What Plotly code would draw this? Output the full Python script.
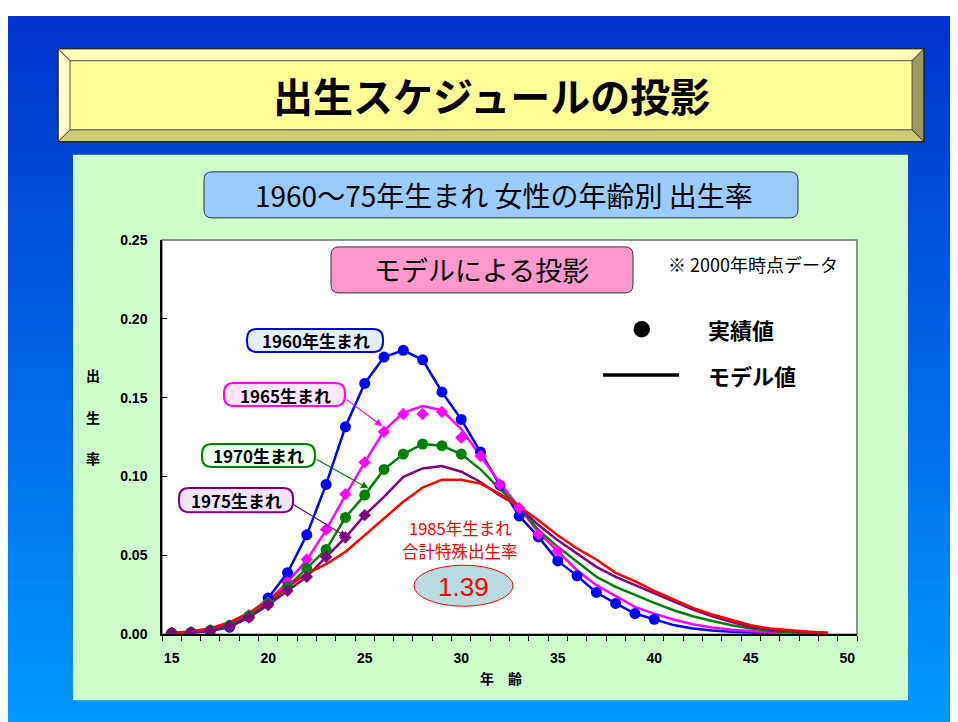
import plotly.graph_objects as go

W, H = 958, 722

# ---------------- data ----------------
ages = list(range(15, 50))
x_ticks = [15, 20, 25, 30, 35, 40, 45, 50]
y_ticks = [0.00, 0.05, 0.10, 0.15, 0.20, 0.25]

# 1960 cohort (actual to age 40)
blue_actual = [0.0005, 0.001, 0.002, 0.0045, 0.011, 0.023, 0.039, 0.063, 0.095, 0.1315,
               0.159, 0.1757, 0.180, 0.174, 0.1536, 0.1362, 0.1155, 0.0945, 0.075, 0.0617,
               0.0465, 0.037, 0.0265, 0.0195, 0.0131, 0.0095]
blue_model = blue_actual + [0.0058, 0.0037, 0.0023, 0.0015, 0.0009, 0.0006, 0.0004, 0.0002, 0.0001]

# 1965 cohort (actual to age 35)
magenta_actual = [0.0008, 0.0012, 0.0025, 0.0055, 0.012, 0.020, 0.033, 0.0474, 0.0664, 0.0888,
                  0.109, 0.1284, 0.1396, 0.1396, 0.141, 0.1246, 0.113, 0.095, 0.080, 0.0634, 0.0527]
magenta_model = [0.0008, 0.0013, 0.0027, 0.006, 0.0125, 0.021, 0.033, 0.047, 0.066, 0.088,
                 0.109, 0.129, 0.1405, 0.1447, 0.142, 0.130, 0.113, 0.096, 0.0805, 0.0645,
                 0.0527, 0.0406, 0.0311, 0.0241, 0.0173, 0.0131, 0.0093, 0.0063, 0.0042, 0.0028,
                 0.0018, 0.0012, 0.0008, 0.0005, 0.0003]

# 1970 cohort (actual to age 30)
green_actual = [0.0008, 0.0012, 0.0025, 0.0055, 0.0115, 0.0195, 0.030, 0.0417, 0.0537, 0.074,
                0.0882, 0.1045, 0.1142, 0.1206, 0.1195, 0.1142]
green_model = green_actual + [0.1045, 0.092, 0.0806, 0.066, 0.0554, 0.0459, 0.0364, 0.030, 0.0247,
                              0.0199, 0.0152, 0.0114, 0.0084, 0.0057, 0.0036, 0.0022, 0.0013, 0.0008, 0.0005]

# 1975 cohort (actual to age 25)
purple_actual = [0.0008, 0.0012, 0.002, 0.005, 0.0105, 0.0185, 0.0275, 0.0364, 0.049, 0.0613, 0.0755]
purple_model = purple_actual + [0.0871, 0.0998, 0.1051, 0.1066, 0.103, 0.0965, 0.088, 0.0808, 0.0692,
                                0.0596, 0.0512, 0.0427, 0.0364, 0.0311, 0.0258, 0.0205, 0.0157, 0.0114,
                                0.0078, 0.0048, 0.003, 0.002, 0.0012, 0.0008]

# 1985 cohort (model only)
red_model = [0.001, 0.0018, 0.0038, 0.0075, 0.0135, 0.0215, 0.030, 0.0385, 0.0444, 0.0522,
             0.0628, 0.0734, 0.084, 0.093, 0.098, 0.098, 0.0955, 0.089, 0.081, 0.0723,
             0.0628, 0.0544, 0.0474, 0.0389, 0.0336, 0.0275, 0.022, 0.0167, 0.0125, 0.0089,
             0.0057, 0.0036, 0.0025, 0.0015, 0.001]

# ---------------- helpers (page pixel -> paper) ----------------
OFF_X = 8
OFF_Y, SC_Y = 16.3, 0.977


def X(px):
    return (px - OFF_X) / W


def Y(py):
    v = 1 - ((py - OFF_Y) / SC_Y) / H
    return min(1.0, max(0.0, v))


def rrect(x0, y0, x1, y1, r):
    p = lambda x, y: f"{X(x):.5f},{Y(y):.5f}"
    return (f"M {p(x0 + r, y0)} L {p(x1 - r, y0)} Q {p(x1, y0)} {p(x1, y0 + r)} "
            f"L {p(x1, y1 - r)} Q {p(x1, y1)} {p(x1 - r, y1)} L {p(x0 + r, y1)} "
            f"Q {p(x0, y1)} {p(x0, y1 - r)} L {p(x0, y0 + r)} Q {p(x0, y0)} {p(x0 + r, y0)} Z")


def poly(pts):
    return "M " + " L ".join(f"{X(a):.5f},{Y(b):.5f}" for a, b in pts) + " Z"


JP = "Noto Sans CJK JP"
AR = "Liberation Sans"

fig = go.Figure()

# ---------------- traces ----------------
series = [
    ("1960", "#0000FF", blue_model, blue_actual, "circle", 11),
    ("1965", "#FF00FF", magenta_model, magenta_actual, "diamond", 9.5),
    ("1970", "#008000", green_model, green_actual, "circle", 11),
    ("1975", "#800080", purple_model, purple_actual, "diamond", 9.5),
]
for name, col, model, actual, sym, sz in series:
    fig.add_trace(go.Scatter(x=ages[:len(model)], y=model, mode="lines",
                             line=dict(color=col, width=2.5), showlegend=False, hoverinfo="skip"))
fig.add_trace(go.Scatter(x=ages[:len(red_model)], y=red_model, mode="lines",
                         line=dict(color="#FF0000", width=2.5), showlegend=False, hoverinfo="skip"))
for name, col, model, actual, sym, sz in series:
    fig.add_trace(go.Scatter(x=ages[:len(actual)], y=actual, mode="markers",
                             marker=dict(symbol=sym, size=sz, color=col, line=dict(width=0)),
                             showlegend=False, hoverinfo="skip"))

# ---------------- shapes ----------------
shapes = []
n = 80
c0 = (0, 51, 204)
c1 = (0, 153, 255)
for i in range(n):
    t = i / (n - 1)
    c = tuple(int(round(c0[k] + (c1[k] - c0[k]) * t)) for k in range(3))
    ya = 1 - i / n
    yb = 1 - (i + 1) / n - 0.002
    shapes.append(dict(type="rect", xref="paper", yref="paper", x0=0, x1=1, y0=max(0, yb), y1=ya,
                       fillcolor=f"rgb{c}", line=dict(width=0), layer="below"))

# yellow bevelled title box
ox0, oy0, ox1, oy1 = 58, 49, 924, 142
ix0, iy0, ix1, iy1 = 70, 61, 912, 130
shapes.append(dict(type="rect", xref="paper", yref="paper", x0=X(ix0), x1=X(ix1), y0=Y(iy1), y1=Y(iy0),
                   fillcolor="#FFFF99", line=dict(width=0), layer="below"))
bevels = [
    ([(ox0, oy0), (ox1, oy0), (ix1, iy0), (ix0, iy0)], "#FFFFB8"),
    ([(ox0, oy0), (ix0, iy0), (ix0, iy1), (ox0, oy1)], "#FFFFCC"),
    ([(ox0, oy1), (ix0, iy1), (ix1, iy1), (ox1, oy1)], "#CCCC77"),
    ([(ox1, oy0), (ox1, oy1), (ix1, iy1), (ix1, iy0)], "#999966"),
]
for pts, col in bevels:
    shapes.append(dict(type="path", xref="paper", yref="paper", path=poly(pts), fillcolor=col,
                       line=dict(color="#333333", width=0.8), layer="below"))
shapes.append(dict(type="rect", xref="paper", yref="paper", x0=X(ox0), x1=X(ox1), y0=Y(oy1), y1=Y(oy0),
                   line=dict(color="#222222", width=1.2), layer="below"))

# light green panel
shapes.append(dict(type="rect", xref="paper", yref="paper", x0=X(73), x1=X(908), y0=Y(700), y1=Y(155),
                   fillcolor="#CCFFCC", line=dict(width=0), layer="below"))
# plot area
shapes.append(dict(type="rect", xref="paper", yref="paper", x0=X(162), x1=X(857), y0=Y(634), y1=Y(240),
                   fillcolor="white", line=dict(color="#707070", width=1.5), layer="below"))

# subtitle boxes
shapes.append(dict(type="path", xref="paper", yref="paper", path=rrect(204, 172, 798, 218, 8),
                   fillcolor="#99CCFF", line=dict(color="#333333", width=1), layer="below"))
shapes.append(dict(type="path", xref="paper", yref="paper", path=rrect(331, 247, 633, 293, 8),
                   fillcolor="#FF99CC", line=dict(color="#333333", width=1), layer="above"))

# cohort label pills
pills = [
    (247, 329, 383, 352, "#0000FF", "#E4EEFF"),
    (224, 383, 345, 406, "#FF00FF", "#FFE6FF"),
    (202, 444, 315, 467, "#008000", "#EEFFEE"),
    (179, 488, 293, 512, "#800080", "#F0E4F6"),
]
for x0, y0, x1, y1, lc, fc in pills:
    shapes.append(dict(type="path", xref="paper", yref="paper", path=rrect(x0, y0, x1, y1, 10),
                       fillcolor=fc, line=dict(color=lc, width=2), layer="above"))

# ellipse for 1.39
shapes.append(dict(type="circle", xref="paper", yref="paper", x0=X(414), x1=X(513), y0=Y(606), y1=Y(565),
                   fillcolor="#B8DCE0", line=dict(color="#FF0000", width=1), layer="above"))

# legend symbols
shapes.append(dict(type="circle", xref="paper", yref="paper", x0=X(633.5), x1=X(650), y0=Y(337.5), y1=Y(321),
                   fillcolor="black", line=dict(width=0), layer="above"))
shapes.append(dict(type="line", xref="paper", yref="paper", x0=X(603), x1=X(679), y0=Y(375), y1=Y(375),
                   line=dict(color="black", width=3.5), layer="above"))

# ---------------- annotations ----------------
ann = []


def txt(x, y, s, size, color="black", family=JP, weight="normal", xanchor="center"):
    ann.append(dict(x=X(x), y=Y(y), xref="paper", yref="paper", text=s, showarrow=False,
                    xanchor=xanchor, yanchor="middle",
                    font=dict(family=family, size=size, color=color, weight=weight)))


txt(492, 95, "出生スケジュールの投影", 40, weight="bold")
txt(504, 195, "1960～75年生まれ 女性の年齢別 出生率", 28)
txt(481, 270, "モデルによる投影", 27)
txt(753, 264, "※ 2000年時点データ", 18)
txt(706, 329, "実績値", 22, weight="bold", xanchor="left")
txt(706, 375, "モデル値", 22, weight="bold", xanchor="left")

txt(316, 341, "1960年生まれ", 17, weight="bold")
txt(285, 395, "1965生まれ", 17, weight="bold")
txt(258.5, 455.5, "1970生まれ", 17, weight="bold")
txt(236, 500, "1975生まれ", 17, weight="bold")

txt(460, 528, "1985年生まれ", 16.5, color="#FF0000")
txt(460, 551, "合計特殊出生率", 16.5, color="#FF0000")
txt(463, 587, "1.39", 26, color="#FF0000", family=AR)

for ch, yy in zip(["出", "生", "率"], [375, 417, 458]):
    txt(93, yy, ch, 14, weight="bold")
txt(487, 678, "年", 14, weight="bold")
txt(515, 678, "齢", 14, weight="bold")

arrows = [
    (25.91, 0.132, 23.98, 0.1496, "#FF00FF"),
    (25.19, 0.0925, 22.42, 0.1115, "#008000"),
    (24.07, 0.0617, 21.22, 0.0829, "#800080"),
]
for hx, hy, tx, ty, col in arrows:
    ann.append(dict(x=hx, y=hy, xref="x", yref="y", ax=tx, ay=ty, axref="x", ayref="y",
                    text="", showarrow=True, arrowhead=2, arrowsize=1.2, arrowwidth=1.2,
                    arrowcolor=col, standoff=0, startstandoff=0))

fig.update_layout(
    width=W, height=H,
    margin=dict(l=0, r=0, t=0, b=0),
    paper_bgcolor="white", plot_bgcolor="rgba(0,0,0,0)",
    shapes=shapes, annotations=ann, showlegend=False,
    xaxis=dict(domain=[X(162), X(857)], range=[14.5, 50.5], tickmode="array", tickvals=x_ticks,
               ticktext=[str(v) for v in x_ticks], ticks="", showline=True, linecolor="black",
               linewidth=1.5, showgrid=False, zeroline=False, ticklabelstandoff=10,
               tickfont=dict(family=AR, size=14, color="black", weight="bold"),
               minor=dict(tick0=14.5, dtick=1, ticks="outside", ticklen=5, tickcolor="black",
                          tickwidth=1, showgrid=False)),
    yaxis=dict(domain=[Y(634), Y(240)], range=[0, 0.25], tickmode="array", tickvals=y_ticks,
               ticktext=[f"{v:.2f}" for v in y_ticks], ticks="inside", ticklen=5, tickcolor="black",
               showline=True, linecolor="black", linewidth=1.5, showgrid=False, zeroline=False,
               ticklabelstandoff=10,
               tickfont=dict(family=AR, size=14, color="black", weight="bold")),
)

fig.write_html("out.html")
